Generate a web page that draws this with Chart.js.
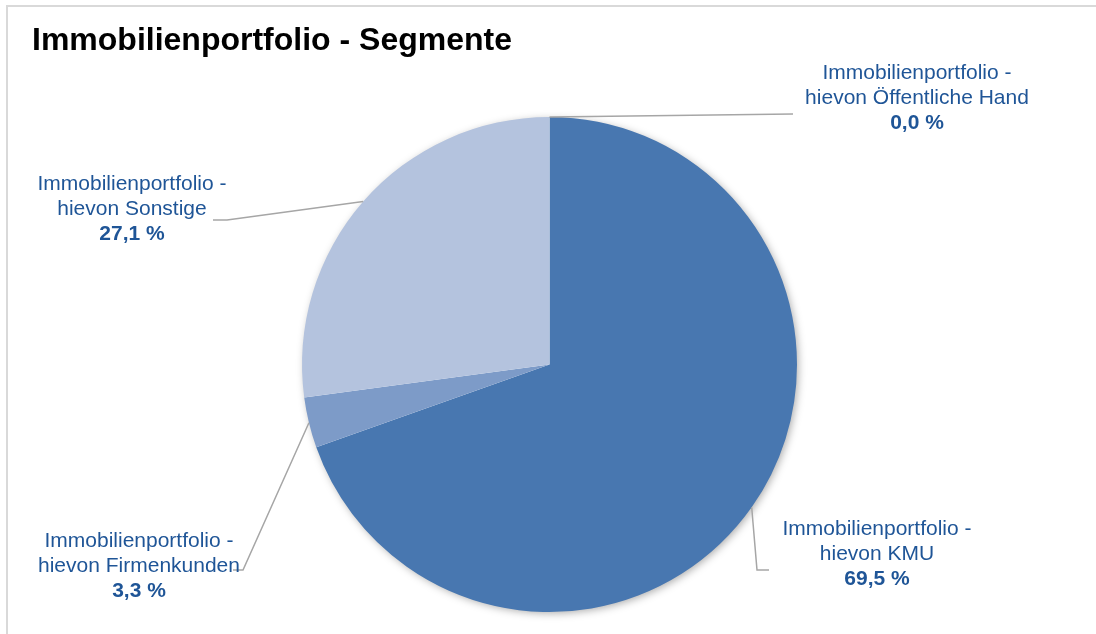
<!DOCTYPE html>
<html lang="de">
<head>
<meta charset="utf-8">
<title>Immobilienportfolio - Segmente</title>
<script src="https://cdn.jsdelivr.net/npm/chart.js@4.4.1/dist/chart.umd.min.js"></script>
<style>
  html, body { margin: 0; padding: 0; background: #ffffff; }
  body { width: 1096px; height: 634px; position: relative; overflow: hidden; }
  .frame {
    position: absolute; left: 6px; top: 5px; width: 1200px; height: 800px;
    border-left: 2px solid #d9d9d9; border-top: 2px solid #d9d9d9;
  }
  .title {
    position: absolute; left: 32px; top: 23px;
    font-family: "Liberation Sans", Arial, sans-serif;
    font-weight: bold; font-size: 32px; color: #000000; line-height: 32px;
    white-space: nowrap;
  }
  .wrap { position: absolute; left: 0; top: 0; width: 1096px; height: 634px; }
</style>
</head>
<body>
<div class="frame"></div>
<div class="wrap"><canvas id="chart"></canvas></div>
<div class="title">Immobilienportfolio - Segmente</div>
<script>
const categories = [
  'Immobilienportfolio - hievon KMU',
  'Immobilienportfolio - hievon Firmenkunden',
  'Immobilienportfolio - hievon Sonstige',
  'Immobilienportfolio - hievon Öffentliche Hand'
];
const shares = [69.5, 3.3, 27.1, 0.0];
const sliceColors = ['#4877b0', '#7d9bc8', '#b4c3de', '#2f5597'];

// label placement: text centre x, first baseline y, leader elbow and end
const labelLayout = [
  {x: 877, y: 535, elbow: [757, 570], end: [769, 570]},
  {x: 139, y: 547, elbow: [243, 570], end: [233, 570]},
  {x: 132, y: 190, elbow: [227, 220], end: [213, 220]},
  {x: 917, y: 79, elbow: null, end: [793, 114]}
];

const fontFamily = '"Liberation Sans", Arial, sans-serif';
const textColor = '#1f5597';
const lineColor = '#a6a6a6';

const pieShadow = {
  id: 'pieShadow',
  beforeDatasetsDraw(chart) {
    const arc = chart.getDatasetMeta(0).data[0];
    if (!arc) return;
    const ctx = chart.ctx;
    ctx.save();
    ctx.shadowColor = 'rgba(0,0,0,0.35)';
    ctx.shadowBlur = 8;
    ctx.shadowOffsetX = 2;
    ctx.shadowOffsetY = 2;
    ctx.fillStyle = '#ffffff';
    ctx.beginPath();
    ctx.arc(arc.x, arc.y, arc.outerRadius - 1, 0, Math.PI * 2);
    ctx.fill();
    ctx.restore();
  }
};

const sliceLabels = {
  id: 'sliceLabels',
  afterDatasetsDraw(chart) {
    const ctx = chart.ctx;
    const meta = chart.getDatasetMeta(0);
    meta.data.forEach((arc, i) => {
      const lay = labelLayout[i];
      const mid = (arc.startAngle + arc.endAngle) / 2;
      const sx = arc.x + Math.cos(mid) * arc.outerRadius;
      const sy = arc.y + Math.sin(mid) * arc.outerRadius;

      // leader line
      ctx.save();
      ctx.strokeStyle = lineColor;
      ctx.lineWidth = 1.5;
      ctx.beginPath();
      ctx.moveTo(sx, sy);
      if (lay.elbow) ctx.lineTo(lay.elbow[0], lay.elbow[1]);
      ctx.lineTo(lay.end[0], lay.end[1]);
      ctx.stroke();
      ctx.restore();

      // text
      const parts = categories[i].split(' - ');
      const lines = [parts[0] + ' -', parts[1]];
      ctx.save();
      ctx.fillStyle = textColor;
      ctx.textAlign = 'center';
      ctx.textBaseline = 'alphabetic';
      ctx.font = '21px ' + fontFamily;
      ctx.fillText(lines[0], lay.x, lay.y);
      ctx.fillText(lines[1], lay.x, lay.y + 25);
      ctx.font = 'bold 21px ' + fontFamily;
      ctx.fillText(shares[i].toFixed(1).replace('.', ',') + ' %', lay.x, lay.y + 50);
      ctx.restore();
    });
  }
};

new Chart(document.getElementById('chart'), {
  type: 'pie',
  data: {
    labels: categories,
    datasets: [{
      data: shares,
      backgroundColor: sliceColors,
      borderWidth: 0
    }]
  },
  options: {
    responsive: true,
    maintainAspectRatio: false,
    animation: false,
    layout: {
      padding: {left: 302, right: 299, top: 117, bottom: 22}
    },
    plugins: {
      legend: {display: false},
      tooltip: {enabled: false},
      title: {display: false}
    }
  },
  plugins: [pieShadow, sliceLabels]
});
</script>
</body>
</html>
